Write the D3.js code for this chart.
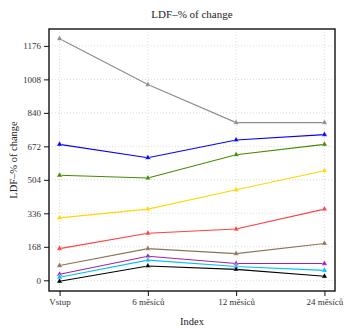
<!DOCTYPE html>
<html><head><meta charset="utf-8">
<script src="https://cdn.jsdelivr.net/npm/d3@7"></script>
<style>body{margin:0;background:#fff}svg{display:block}</style>
</head><body><svg id="c" width="345" height="333"></svg>
<script>
const categories = ["Vstup","6 měsíců","12 měsíců","24 měsíců"];
const yTicks = [0,168,336,504,672,840,1008,1176];
const seriesColors = ["#8c8c8c","#0000ff","#458b00","#ffd700","#ff4040","#8b7355","#a020a8","#00bfff","#000000"];
const gray   = [1212, 982, 791, 791];
const blue   = [682, 615, 704, 731];
const green  = [527, 513, 630, 682];
const yellow = [313, 357, 454, 550];
const red    = [159, 236, 257, 357];
const brown  = [74, 159, 134, 185];
const purple = [30, 121, 84, 84];
const cyan   = [15, 101, 69, 50];
const black  = [-5, 72, 55, 20];
const seriesValues = [gray,blue,green,yellow,red,brown,purple,cyan,black];

const FONT = "Liberation Serif";
const svg = d3.select("#c");
const L=49,R=335,T=29,B=291;
const x = d3.scaleLinear().domain([1-0.12,4+0.12]).range([L,R]);
const allV = seriesValues.flat();
const lo=d3.min(allV), hi=d3.max(allV), pad=(hi-lo)*0.04;
const y = d3.scaleLinear().domain([lo-pad,hi+pad]).range([B,T]);

const g = svg.append("g");
g.selectAll("line.gy").data(yTicks).enter().append("line")
 .attr("x1",L).attr("x2",R).attr("y1",d=>y(d)).attr("y2",d=>y(d))
 .attr("stroke","#d3d3d3").attr("stroke-width",0.8).attr("stroke-dasharray","1,2");
g.selectAll("line.gx").data(categories).enter().append("line")
 .attr("y1",T).attr("y2",B).attr("x1",(d,i)=>x(i+1)).attr("x2",(d,i)=>x(i+1))
 .attr("stroke","#d3d3d3").attr("stroke-width",0.8).attr("stroke-dasharray","1,2");

const line = d3.line().x((d,i)=>x(i+1)).y(d=>y(d));
const tri = d3.symbol().type(d3.symbolTriangle).size(14);
seriesValues.forEach((vals,k)=>{
  svg.append("path").datum(vals).attr("d",line).attr("fill","none")
    .attr("stroke",seriesColors[k]).attr("stroke-width",1.1);
  svg.selectAll(null).data(vals).enter().append("path")
    .attr("d",tri).attr("transform",(d,i)=>`translate(${x(i+1)},${y(d)})`)
    .attr("fill",seriesColors[k]).attr("stroke","#fff").attr("stroke-width",0.4);
});

svg.append("rect").attr("x",L).attr("y",T).attr("width",R-L).attr("height",B-T)
 .attr("fill","none").attr("stroke","#111").attr("stroke-width",1.4);

const ya = svg.append("g").attr("transform",`translate(${L},0)`)
 .call(d3.axisLeft(y).tickValues(yTicks).tickSize(5).tickPadding(3).tickFormat(d3.format("d")));
const xa = svg.append("g").attr("transform",`translate(0,${B})`)
 .call(d3.axisBottom(x).tickValues([1,2,3,4]).tickSize(5).tickPadding(3).tickFormat(d=>categories[d-1]));
[ya,xa].forEach(a=>{a.attr("font-family",FONT).attr("font-size",9);
 a.select(".domain").remove();
 a.selectAll("line").attr("stroke","#111");
 a.selectAll("text").attr("fill","#333");});

svg.append("text").attr("x",(L+R)/2).attr("y",18).attr("text-anchor","middle").attr("font-family",FONT).attr("font-size",11).attr("fill","#222").text("LDF–% of change");
svg.append("text").attr("x",(L+R)/2).attr("y",325).attr("text-anchor","middle").attr("font-family",FONT).attr("font-size",10.5).attr("fill","#222").text("Index");
svg.append("text").attr("transform",`translate(17,${(T+B)/2}) rotate(-90)`).attr("text-anchor","middle").attr("font-family",FONT).attr("font-size",10.5).attr("fill","#222").text("LDF–% of change");
</script></body></html>
